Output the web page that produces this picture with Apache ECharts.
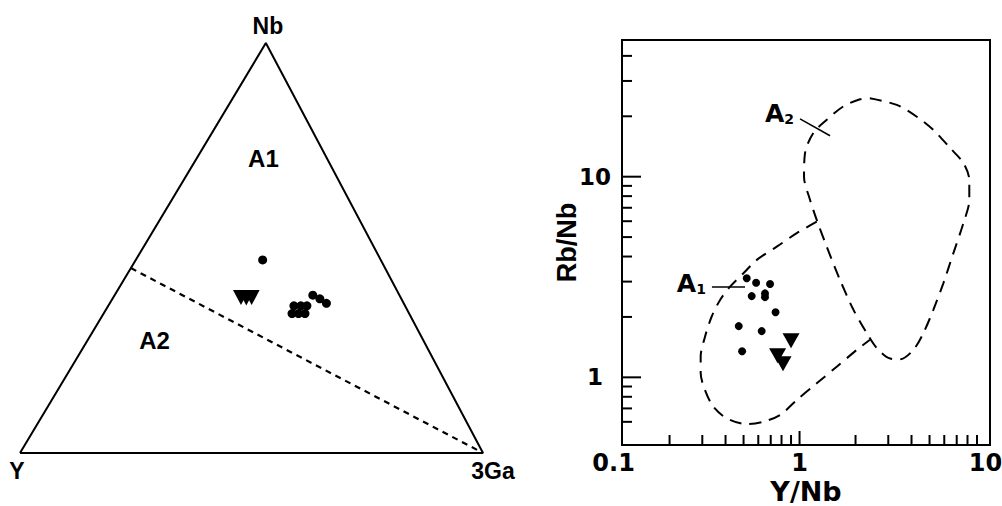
<!DOCTYPE html>
<html><head><meta charset="utf-8">
<script src="https://cdn.jsdelivr.net/npm/echarts@6/dist/echarts.min.js"></script>
<style>html,body{margin:0;padding:0;background:#fff}#c{width:1002px;height:506px}</style>
</head><body><div id="c"></div>
<script>
// ===== Ternary diagram data: each point is [Nb, Y, 3Ga] fractions =====
const ternaryVertexNames = ['Nb', 'Y', '3Ga'];
const ternaryVertices = [[1, 0, 0], [0, 1, 0], [0, 0, 1]];
const ternaryDivider = [[0.451, 0.549, 0], [0, 0, 1]];
const ternaryCircles = [
  [0.471, 0.255, 0.274],
  [0.385, 0.187, 0.428],
  [0.376, 0.176, 0.448],
  [0.365, 0.167, 0.468],
  [0.359, 0.240, 0.401],
  [0.359, 0.225, 0.416],
  [0.359, 0.212, 0.429],
  [0.340, 0.253, 0.407],
  [0.340, 0.239, 0.421],
  [0.340, 0.225, 0.435]
];
const ternaryTriangles = [
  [0.379, 0.345, 0.276],
  [0.378, 0.334, 0.288],
  [0.379, 0.322, 0.299]
];
const ternaryFieldNames = ['A1', 'A2'];
const ternaryFieldPos = [[0.719, 0.137, 0.144], [0.274, 0.581, 0.145]];

// ===== Y/Nb vs Rb/Nb diagram data =====
const xTickLabels = [0.1, 1, 10];
const yTickLabels = [1, 10];
const xMajorTicks = [1];
const yMajorTicks = [1, 10];
const xMinorTicks = [0.2, 0.3, 0.4, 0.5, 0.6, 0.7, 0.8, 0.9, 2, 3, 4, 5, 6, 7, 8, 9];
const yMinorTicks = [0.6, 0.7, 0.8, 0.9, 2, 3, 4, 5, 6, 7, 8, 9, 20, 30, 40];
const X_MIN = 0.111, X_MAX = 10.57, Y_MIN = 0.46, Y_MAX = 48;

const fieldA2 = [
  [2.39, 24.6], [3.33, 22.8], [4.27, 19.9], [5.24, 17.1], [6.45, 13.9], [7.60, 11.7],
  [8.18, 9.63], [8.18, 7.66], [7.60, 5.86], [6.71, 4.15], [5.93, 2.94], [5.24, 2.17],
  [4.63, 1.66], [4.09, 1.37], [3.47, 1.23], [3.07, 1.24], [2.60, 1.40], [2.30, 1.66],
  [1.95, 2.17], [1.65, 3.06], [1.40, 4.48], [1.237, 6.09], [1.139, 7.66], [1.057, 10.0],
  [1.070, 13.1], [1.186, 16.5], [1.40, 19.2], [1.72, 22.4], [2.115, 24.3], [2.39, 24.6]
];
const fieldA1 = [
  [1.237, 5.97], [0.966, 5.23], [0.754, 4.48], [0.589, 3.85], [0.499, 3.30], [0.423, 2.83],
  [0.374, 2.43], [0.337, 2.01], [0.310, 1.59], [0.294, 1.27], [0.294, 1.05], [0.310, 0.865],
  [0.344, 0.714], [0.406, 0.625], [0.520, 0.585], [0.639, 0.601], [0.786, 0.649], [0.966, 0.771],
  [1.237, 0.934], [1.585, 1.13], [2.03, 1.37], [2.39, 1.54]
];
const rbCircles = [
  [0.520, 3.12], [0.584, 2.96], [0.694, 2.92], [0.553, 2.54], [0.652, 2.62],
  [0.652, 2.51], [0.743, 2.11], [0.471, 1.80], [0.626, 1.70], [0.491, 1.35]
];
const rbTriangles = [[0.900, 1.52], [0.762, 1.28], [0.815, 1.17]];
const leaderA2 = [[1.006, 19.4], [1.459, 16.0]];
const leaderA1 = [[0.338, 2.82], [0.509, 2.82]];
const fieldLabelA2 = ['A', '2'];
const fieldLabelA1 = ['A', '1'];

// ===== Helpers =====
const APEX_X = 0.531; // horizontal position of the Nb apex within the triangle frame
function tern(p) { return [p[2] + p[0] * APEX_X, p[0]]; }
const ARIAL = '"Liberation Sans", Arial, sans-serif';
const WIDE = '"DejaVu Sans", sans-serif';

function tickSeries(values, axis, len) {
  return {
    type: 'custom', xAxisIndex: 1, yAxisIndex: 1, silent: true, clip: false,
    data: values.map(v => axis === 'x' ? [v, Y_MIN] : [X_MIN, v]),
    renderItem(params, api) {
      const p = api.coord([api.value(0), api.value(1)]);
      const shape = axis === 'x'
        ? { x1: p[0], y1: p[1], x2: p[0], y2: p[1] - len }
        : { x1: p[0], y1: p[1], x2: p[0] + len, y2: p[1] };
      return { type: 'line', shape, style: { stroke: '#000', lineWidth: 2 } };
    }
  };
}
function tickLabelSeries(values, axis, fontSize, gap) {
  return {
    type: 'custom', xAxisIndex: 1, yAxisIndex: 1, silent: true, clip: false,
    data: values.map(v => axis === 'x' ? [v, Y_MIN] : [X_MIN, v]),
    renderItem(params, api) {
      const v = axis === 'x' ? api.value(0) : api.value(1);
      const p = api.coord([api.value(0), api.value(1)]);
      return {
        type: 'text',
        x: axis === 'x' ? p[0] : p[0] - gap,
        y: axis === 'x' ? p[1] + gap : p[1],
        style: {
          text: String(v), fill: '#000', fontFamily: WIDE, fontWeight: 'bold', fontSize,
          align: 'center', verticalAlign: 'middle'
        }
      };
    }
  };
}

const vertexLabelCfg = [
  { position: 'top', distance: 6, offset: [2, 0] },
  { position: 'bottom', distance: 6, offset: [-3, 0] },
  { position: 'bottom', distance: 6, offset: [10, 0] }
];

const chart = echarts.init(document.getElementById('c'), null, { renderer: 'svg' });
chart.setOption({
  animation: false,
  backgroundColor: '#fff',
  textStyle: { fontFamily: ARIAL },
  grid: [
    { left: 20, top: 43, width: 463, height: 410, outerBoundsMode: 'none', containLabel: false },
    { left: 622, top: 40, width: 368, height: 405, show: true, borderColor: '#000', borderWidth: 2, backgroundColor: 'transparent', outerBoundsMode: 'none', containLabel: false }
  ],
  xAxis: [
    { gridIndex: 0, type: 'value', min: 0, max: 1, show: false },
    {
      gridIndex: 1, type: 'log', logBase: 10, min: X_MIN, max: X_MAX,
      axisLine: { show: true, lineStyle: { color: '#000', width: 2 } },
      axisTick: { show: false }, splitLine: { show: false }, minorTick: { show: false },
      axisLabel: { show: false },
      name: 'Y/Nb', nameLocation: 'middle', nameGap: 33,
      nameTextStyle: { color: '#000', fontFamily: WIDE, fontWeight: 'bold', fontSize: 27, lineHeight: 27 }
    }
  ],
  yAxis: [
    { gridIndex: 0, type: 'value', min: 0, max: 1, show: false },
    {
      gridIndex: 1, type: 'log', logBase: 10, min: Y_MIN, max: Y_MAX,
      axisLine: { show: true, lineStyle: { color: '#000', width: 2 } },
      axisTick: { show: false }, splitLine: { show: false }, minorTick: { show: false },
      axisLabel: { show: false },
      name: 'Rb/Nb', nameLocation: 'middle', nameGap: 42,
      nameTextStyle: { color: '#000', fontFamily: ARIAL, fontWeight: 'bold', fontSize: 27 }
    }
  ],
  series: [
    // ---- ternary ----
    {
      type: 'line', xAxisIndex: 0, yAxisIndex: 0, symbol: 'none', silent: true,
      data: [ternaryVertices[1], ternaryVertices[2], ternaryVertices[0], ternaryVertices[1]].map(tern),
      lineStyle: { color: '#000', width: 2 }
    },
    {
      type: 'line', xAxisIndex: 0, yAxisIndex: 0, symbol: 'none', silent: true,
      data: ternaryDivider.map(tern),
      lineStyle: { color: '#000', width: 2.2, type: [6, 5] }
    },
    {
      type: 'scatter', xAxisIndex: 0, yAxisIndex: 0, symbol: 'circle', symbolSize: 9,
      data: ternaryCircles.map(tern), itemStyle: { color: '#000', opacity: 1 }
    },
    {
      type: 'scatter', xAxisIndex: 0, yAxisIndex: 0, symbol: 'triangle', symbolRotate: 180, symbolSize: [16, 15],
      data: ternaryTriangles.map(tern), itemStyle: { color: '#000', opacity: 1 }
    },
    {
      type: 'scatter', xAxisIndex: 0, yAxisIndex: 0, symbolSize: 0, itemStyle: { opacity: 1 },
      data: ternaryFieldPos.map((p, i) => ({ value: tern(p), name: ternaryFieldNames[i] })),
      label: { show: true, position: 'inside', formatter: '{b}', color: '#000', fontFamily: ARIAL, fontWeight: 'bold', fontSize: 24 }
    },
    {
      type: 'scatter', xAxisIndex: 0, yAxisIndex: 0, symbolSize: 0, itemStyle: { opacity: 1 },
      data: ternaryVertices.map((p, i) => ({
        value: tern(p), name: ternaryVertexNames[i],
        label: Object.assign({ show: true, formatter: '{b}', color: '#000', fontFamily: ARIAL, fontWeight: 'bold', fontSize: 23 }, vertexLabelCfg[i])
      }))
    },
    // ---- Y/Nb vs Rb/Nb ----
    {
      type: 'line', xAxisIndex: 1, yAxisIndex: 1, symbol: 'none', smooth: 0.3, silent: true,
      data: fieldA2, lineStyle: { color: '#000', width: 2, type: [12, 8] }
    },
    {
      type: 'line', xAxisIndex: 1, yAxisIndex: 1, symbol: 'none', smooth: 0.3, silent: true,
      data: fieldA1, lineStyle: { color: '#000', width: 2, type: [12, 8] }
    },
    {
      type: 'line', xAxisIndex: 1, yAxisIndex: 1, symbol: 'none', silent: true,
      data: leaderA2, lineStyle: { color: '#000', width: 1.5 }
    },
    {
      type: 'line', xAxisIndex: 1, yAxisIndex: 1, symbol: 'none', silent: true,
      data: leaderA1, lineStyle: { color: '#000', width: 1.5 }
    },
    {
      type: 'scatter', xAxisIndex: 1, yAxisIndex: 1, symbol: 'circle', symbolSize: 8,
      data: rbCircles, itemStyle: { color: '#000', opacity: 1 }
    },
    {
      type: 'scatter', xAxisIndex: 1, yAxisIndex: 1, symbol: 'triangle', symbolRotate: 180, symbolSize: [17, 15],
      data: rbTriangles, itemStyle: { color: '#000', opacity: 1 }
    },
    {
      type: 'scatter', xAxisIndex: 1, yAxisIndex: 1, symbolSize: 0, itemStyle: { opacity: 1 },
      data: [
        { value: leaderA2[0], label: { formatter: '{a|' + fieldLabelA2[0] + '}{s|' + fieldLabelA2[1] + '}', offset: [0, -6] } },
        { value: leaderA1[0], label: { formatter: '{a|' + fieldLabelA1[0] + '}{s|' + fieldLabelA1[1] + '}', offset: [0, -4] } }
      ],
      label: {
        show: true, position: 'left', distance: 6,
        rich: {
          a: { fontFamily: WIDE, fontWeight: 'bold', fontSize: 25, color: '#000', verticalAlign: 'bottom', lineHeight: 26 },
          s: { fontFamily: WIDE, fontWeight: 'bold', fontSize: 14, color: '#000', verticalAlign: 'bottom', lineHeight: 18 }
        }
      }
    },
    tickSeries(xMajorTicks, 'x', 14),
    tickSeries(xMinorTicks, 'x', 10),
    tickSeries(yMajorTicks, 'y', 19),
    tickSeries(yMinorTicks, 'y', 10),
    tickLabelSeries(xTickLabels, 'x', 24, 18),
    tickLabelSeries(yTickLabels, 'y', 23, 27)
  ]
});
</script></body></html>
